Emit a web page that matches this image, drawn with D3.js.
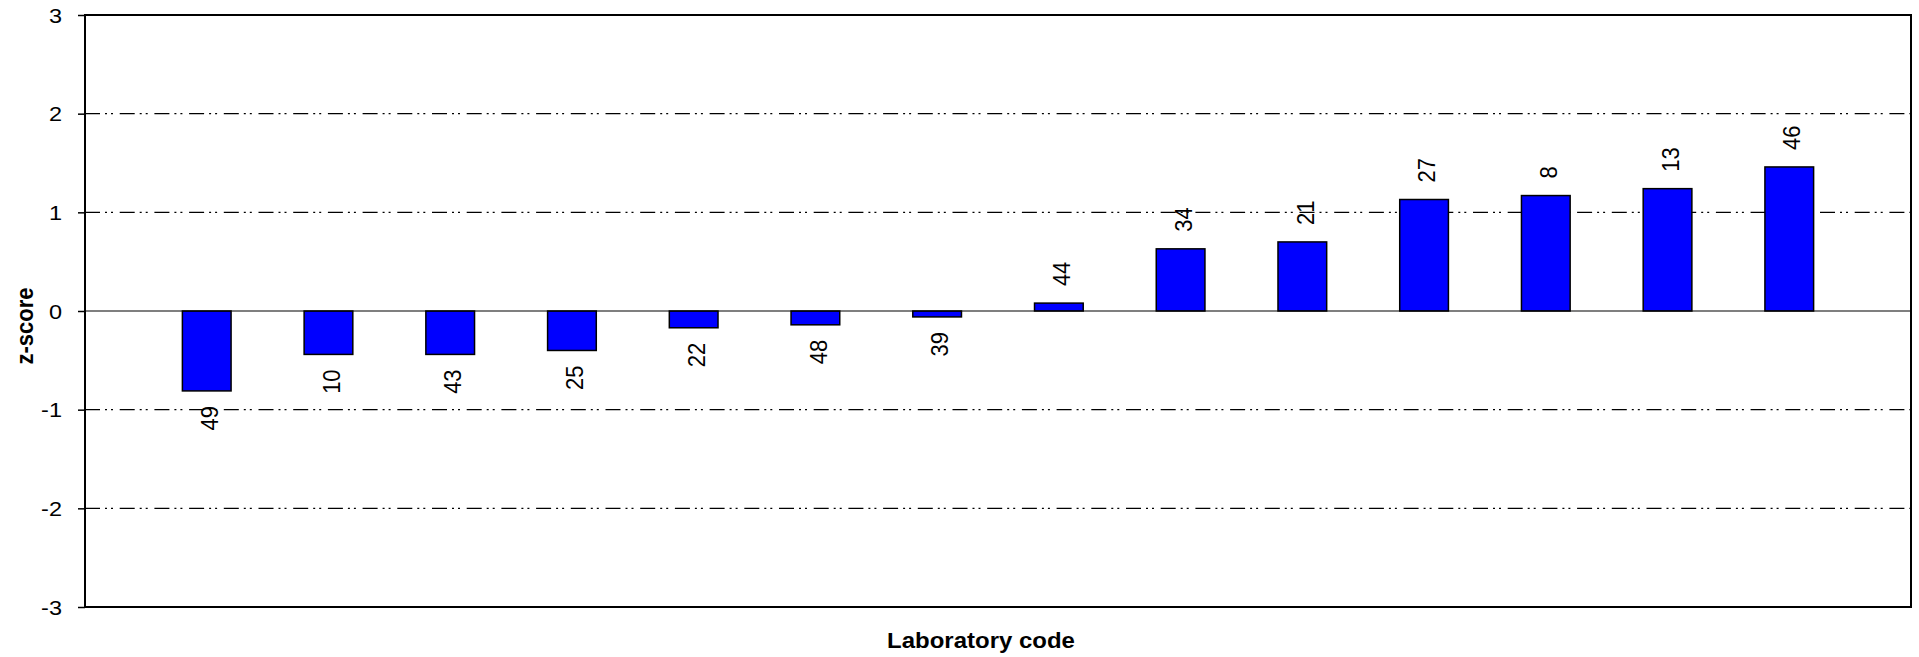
<!DOCTYPE html>
<html>
<head>
<meta charset="utf-8">
<script src="https://cdn.jsdelivr.net/npm/d3@7"></script>
<style>
  html, body { margin: 0; padding: 0; background: #fff; }
  svg { display: block; font-family: "Liberation Sans", Arial, sans-serif; }
</style>
</head>
<body>
<div id="chart"></div>
<script>
// laboratory codes, in plotted order
const labCodes = ["49", "10", "43", "25", "22", "48", "39", "44", "34", "21", "27", "8", "13", "46"];
// z-score per laboratory
const zScores = [-0.81, -0.44, -0.44, -0.40, -0.17, -0.14, -0.06, 0.08, 0.63, 0.70, 1.13, 1.17, 1.24, 1.46];
// y axis ticks
const yTicks = [-3, -2, -1, 0, 1, 2, 3];

const W = 1919, H = 657;
const plot = { left: 85, right: 1911, top: 15, bottom: 607 };
const stretch = 1.12; // the original text is slightly wider than it is tall

const data = labCodes.map((c, i) => ({ code: c, z: zScores[i] }));

const svg = d3.select("#chart")
    .append("svg")
    .attr("width", W)
    .attr("height", H);

const x = d3.scalePoint()
    .domain(labCodes)
    .range([plot.left, plot.right])
    .padding(1);

const y = d3.scaleLinear()
    .domain([-3, 3])
    .range([plot.bottom, plot.top]);

const barW = x.step() * 0.4;

// dash-dot-dot grid lines
svg.append("g")
    .selectAll("line")
    .data(yTicks.filter(t => Math.abs(t) !== 3 && t !== 0))
    .join("line")
    .attr("x1", plot.left)
    .attr("x2", plot.right)
    .attr("y1", d => y(d))
    .attr("y2", d => y(d))
    .attr("stroke", "#000")
    .attr("stroke-width", 1.3)
    .attr("stroke-dasharray", "15,5,2,4,2,6.7");

// bars
svg.append("g")
    .selectAll("rect")
    .data(data)
    .join("rect")
    .attr("x", d => x(d.code) - barW / 2)
    .attr("width", barW)
    .attr("y", d => y(Math.max(0, d.z)))
    .attr("height", d => Math.abs(y(d.z) - y(0)))
    .attr("fill", "#0000ff")
    .attr("stroke", "#000")
    .attr("stroke-width", 1.5);

// zero line
svg.append("line")
    .attr("x1", plot.left)
    .attr("x2", plot.right)
    .attr("y1", y(0))
    .attr("y2", y(0))
    .attr("stroke", "#000")
    .attr("stroke-width", 1.2);

// plot frame
svg.append("rect")
    .attr("x", plot.left)
    .attr("y", plot.top)
    .attr("width", plot.right - plot.left)
    .attr("height", plot.bottom - plot.top)
    .attr("fill", "none")
    .attr("stroke", "#000")
    .attr("stroke-width", 2);

// y axis with outside ticks
const yAxis = svg.append("g")
    .attr("transform", `translate(${plot.left},0)`)
    .call(d3.axisLeft(y).tickValues(yTicks).tickSize(7).tickPadding(0).tickFormat(d3.format("d")));

yAxis.select(".domain").remove();
yAxis.selectAll(".tick line").attr("stroke", "#000").attr("stroke-width", 1.5);
yAxis.selectAll(".tick text")
    .attr("x", null)
    .attr("dy", null)
    .attr("text-anchor", "end")
    .attr("dominant-baseline", "central")
    .attr("transform", `translate(-23,0) scale(${stretch},1)`)
    .style("font-size", "21px")
    .attr("fill", "#000")
    .text(d => d < 0 ? "-" + Math.abs(d) : d);

// bar labels, rotated
svg.append("g")
    .selectAll("text")
    .data(data)
    .join("text")
    .attr("transform", d => {
        const yy = d.z >= 0 ? y(d.z) - 17 : y(d.z) + 15;
        return `translate(${x(d.code)},${yy}) scale(${stretch},1) rotate(-90)`;
    })
    .attr("dy", 10)
    .attr("text-anchor", d => d.z >= 0 ? "start" : "end")
    .style("font-size", "22px")
    .attr("fill", "#000")
    .text(d => d.code);

// axis titles
svg.append("text")
    .attr("transform", `translate(${(plot.left + plot.right) / 2 - 17},648) scale(1.09,1)`)
    .attr("text-anchor", "middle")
    .style("font-size", "22px")
    .style("font-weight", "bold")
    .text("Laboratory code");

svg.append("text")
    .attr("transform", `translate(33,${(plot.top + plot.bottom) / 2 + 15}) scale(1.12,1) rotate(-90)`)
    .attr("text-anchor", "middle")
    .style("font-size", "22px")
    .style("font-weight", "bold")
    .text("z-score");
</script>
</body>
</html>
